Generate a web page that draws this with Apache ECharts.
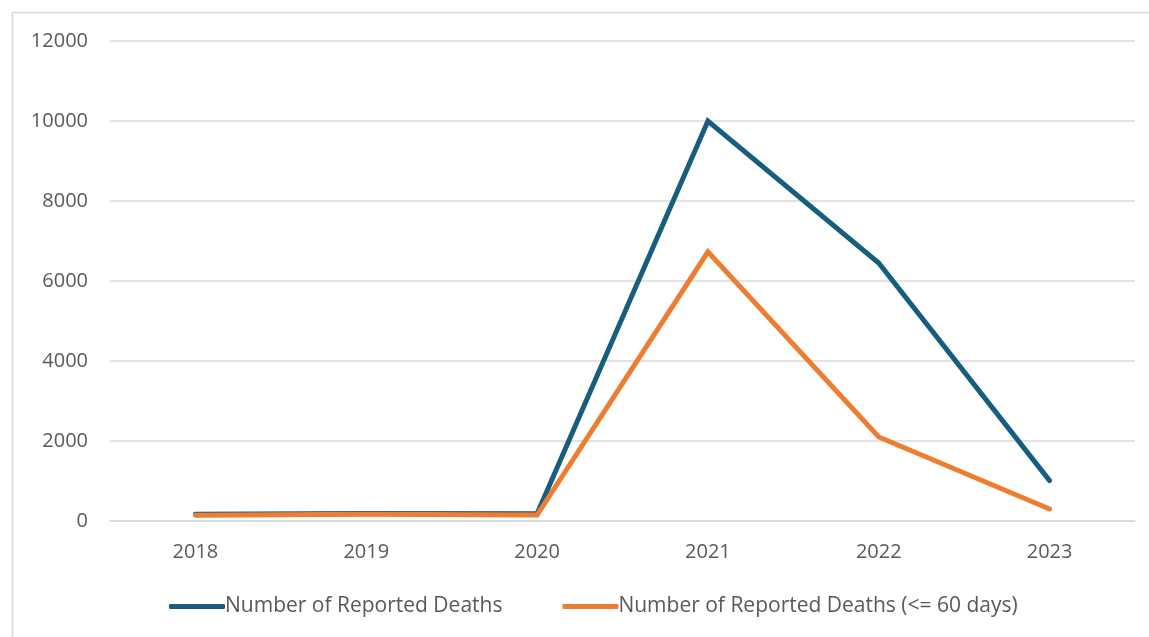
<!DOCTYPE html>
<html>
<head>
<meta charset="utf-8">
<script src="https://cdn.jsdelivr.net/npm/echarts@6/dist/echarts.min.js"></script>
<style>
  html, body { margin: 0; padding: 0; background: #fff; }
  #chart { width: 1149px; height: 637px; }
</style>
</head>
<body>
<div id="chart"></div>
<script>
const years = ['2018', '2019', '2020', '2021', '2022', '2023']
const reportedDeaths = [170, 185, 180, 10000, 6450, 1010]
const reportedDeaths60 = [145, 170, 150, 6730, 2100, 300]
const yTicks = [0, 2000, 4000, 6000, 8000, 10000, 12000]

const chart = echarts.init(document.getElementById('chart'))
const textColor = '#595959'
const font = 'Open Sans, Liberation Sans, sans-serif'

const option = {
  animation: false,
  color: ['#175e7e', '#ed7d31'],
  graphic: [
    {
      type: 'rect',
      left: 10,
      top: 10,
      shape: { width: 1300, height: 800 },
      style: { fill: 'none', stroke: '#d9d9d9', lineWidth: 1.5 },
      silent: true,
    },
  ],
  grid: {
    left: 110,
    right: 14,
    top: 41,
    bottom: 116,
  },
  legend: {
    bottom: 15,
    left: 164,
    itemWidth: 56,
    itemHeight: 5,
    itemGap: 60,
    icon: 'roundRect',
    textStyle: { color: textColor, fontSize: 21, fontFamily: font, padding: [0, 0, 0, -5] },
    data: ['Number of Reported Deaths', 'Number of Reported Deaths (<= 60 days)'],
  },
  xAxis: {
    type: 'category',
    data: years,
    boundaryGap: true,
    axisTick: { show: false },
    axisLine: { lineStyle: { color: '#d9d9d9', width: 1.5 } },
    axisLabel: { color: textColor, fontSize: 20, fontFamily: font, margin: 21 },
  },
  yAxis: {
    type: 'value',
    min: yTicks[0],
    max: yTicks[yTicks.length - 1],
    interval: 2000,
    axisLine: { show: false },
    axisTick: { show: false },
    splitLine: { lineStyle: { color: '#d9d9d9', width: 1.5 } },
    axisLabel: {
      color: textColor,
      fontSize: 20,
      fontFamily: font,
      margin: 22,
      formatter: (v) => String(v),
    },
  },
  series: [
    {
      name: 'Number of Reported Deaths',
      type: 'line',
      data: reportedDeaths,
      symbol: 'none',
      lineStyle: { width: 5, cap: 'round', join: 'miter' },
      z: 2,
    },
    {
      name: 'Number of Reported Deaths (<= 60 days)',
      type: 'line',
      data: reportedDeaths60,
      symbol: 'none',
      lineStyle: { width: 5, cap: 'round', join: 'miter' },
      z: 3,
    },
  ],
}

option && chart.setOption(option)
</script>
</body>
</html>
